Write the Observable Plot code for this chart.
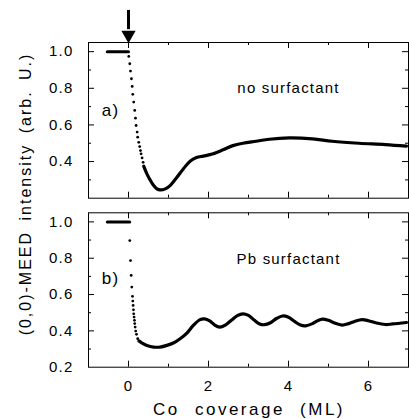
<!DOCTYPE html>
<html><head><meta charset="utf-8">
<script src="https://cdn.jsdelivr.net/npm/d3@7"></script>
<script src="https://cdn.jsdelivr.net/npm/@observablehq/plot@0.6"></script>
<style>
body{margin:0;background:#fff}
#wrap{position:relative;width:409px;height:419px;font-family:"Liberation Sans",Arial,sans-serif;color:#000}
#wrap svg{position:absolute;left:0}
#ylab{position:absolute;left:26px;top:194px;transform:translate(-50%,-50%) rotate(-90deg);white-space:nowrap;font-size:16px;line-height:16px;letter-spacing:2px;word-spacing:4px}
#xlab{position:absolute;left:249px;top:400.6px;transform:translateX(-50%);white-space:nowrap;font-size:17px;line-height:17px;letter-spacing:2.5px;word-spacing:8px}
</style></head><body><div id="wrap"><div id="ylab">(0,0)-MEED intensity (arb. U.)</div><div id="xlab"></div></div>
<script>
// ---- data ----
const xDomain = [-1, 7];
const yDomain = [0.2, 1.05];
const xTickLabels = [0, 2, 4, 6];
const xMinorTicks = [1, 3, 5];
const yTickLabelsTop = [0.4, 0.6, 0.8, 1.0];
const yTickLabelsBottom = [0.2, 0.4, 0.6, 0.8, 1.0];
const yMajorTicks = [0.4, 0.6, 0.8, 1.0];
const yMinorTicks = [0.3, 0.5, 0.7, 0.9];

const topFlatX = [-0.53, 0];
const topFlatY = [1.0, 1.0];
const topDropX = [0.007,0.032,0.05,0.074,0.092,0.107,0.13,0.156,0.174,0.19,0.216,0.23,0.256,0.28,0.3,0.315,0.34,0.365];
const topDropY = [0.974,0.934,0.894,0.852,0.81,0.767,0.725,0.679,0.637,0.597,0.561,0.533,0.505,0.482,0.46,0.442,0.42,0.396];
const topCurveX = [0.38,0.46,0.55,0.63,0.71,0.79,0.92,1.04,1.21,1.37,1.54,1.70,1.87,2.03,2.12,2.36,2.61,2.86,3.19,3.52,4.02,4.6,5.09,5.76,6.42,6.95];
const topCurveY = [0.375,0.333,0.296,0.269,0.251,0.245,0.251,0.269,0.314,0.36,0.402,0.422,0.43,0.438,0.443,0.464,0.487,0.5,0.511,0.522,0.529,0.524,0.511,0.5,0.493,0.484];

const botFlatX = [-0.53, 0.03];
const botFlatY = [1.0, 1.0];
const botDropX = [0.032,0.05,0.067,0.082,0.1,0.107,0.116,0.124,0.13,0.14,0.149,0.156,0.166,0.18,0.2,0.23];
const botDropY = [0.897,0.787,0.705,0.641,0.59,0.564,0.54,0.516,0.494,0.476,0.458,0.44,0.421,0.399,0.381,0.357];
const botCurveX = [0.26,0.34,0.46,0.63,0.79,0.96,1.12,1.29,1.46,1.62,1.79,1.9,2.03,2.15,2.28,2.42,2.58,2.72,2.86,3.0,3.15,3.28,3.4,3.55,3.7,3.85,4.0,4.15,4.3,4.43,4.6,4.72,4.85,5.0,5.15,5.34,5.5,5.65,5.84,6.0,6.2,6.42,6.6,6.95];
const botCurveY = [0.345,0.333,0.32,0.311,0.311,0.32,0.333,0.357,0.388,0.43,0.462,0.466,0.455,0.433,0.421,0.432,0.46,0.484,0.494,0.485,0.458,0.438,0.434,0.445,0.468,0.482,0.475,0.452,0.432,0.428,0.44,0.455,0.465,0.458,0.443,0.432,0.44,0.452,0.462,0.456,0.443,0.435,0.438,0.446];

const arrowX = [0];
const arrowTop = 1.225, arrowNeck = 1.12, arrowHead = 1.0915;

const panelLabels = ["a)", "b)"];
const panelLabelX = -0.45;
const panelLabelY = [0.68, 0.69];
const notes = ["no surfactant", "Pb surfactant"];
const noteX = 4.0;
const noteY = [0.80, 0.795];
const xLabel = "Co coverage (ML)";

// ---- helpers ----
const W = 409, ML = 88, MR = 1;
const FW = W - ML - MR;
const zip = (xs, ys) => xs.map((x, i) => ({x, y: ys[i]}));

function frameTicks(fh) {
  return [
    Plot.frame({stroke: "black", strokeWidth: 1}),
    Plot.tickY(yMajorTicks, {y: d => d, insetRight: FW - 6, strokeWidth: 1}),
    Plot.tickY(yMinorTicks, {y: d => d, insetRight: FW - 3, strokeWidth: 1}),
    Plot.tickY(yMajorTicks, {y: d => d, insetLeft: FW - 6, strokeWidth: 1}),
    Plot.tickY(yMinorTicks, {y: d => d, insetLeft: FW - 3, strokeWidth: 1}),
    Plot.tickX(xTickLabels, {x: d => d, insetBottom: fh - 6, strokeWidth: 1}),
    Plot.tickX(xMinorTicks, {x: d => d, insetBottom: fh - 3, strokeWidth: 1}),
    Plot.tickX(xTickLabels, {x: d => d, insetTop: fh - 6, strokeWidth: 1}),
    Plot.tickX(xMinorTicks, {x: d => d, insetTop: fh - 3, strokeWidth: 1})
  ];
}

function dataMarks(flatX, flatY, dropX, dropY, curveX, curveY) {
  return [
    Plot.line(zip(flatX, flatY), {x: "x", y: "y", stroke: "black", strokeWidth: 3}),
    Plot.dot(zip(dropX, dropY), {x: "x", y: "y", r: 1.4, fill: "black"}),
    Plot.line(zip(curveX, curveY), {x: "x", y: "y", stroke: "black", strokeWidth: 3.2, curve: "catmull-rom"})
  ];
}

const style = {fontFamily: '"Liberation Sans", Arial, sans-serif', fontSize: "15px", letterSpacing: "1.2px", background: "transparent", overflow: "visible", color: "black"};

// ---- top panel ----
const topH = 200, topMT = 42, topMB = 2.3;
const topPlot = Plot.plot({
  width: W, height: topH, marginLeft: ML, marginRight: MR, marginTop: topMT, marginBottom: topMB,
  style,
  x: {domain: xDomain, axis: null},
  y: {domain: yDomain},
  marks: [
    ...frameTicks(topH - topMT - topMB),
    Plot.axisY(yTickLabelsTop, {tickSize: 0, tickPadding: 15, tickFormat: d3.format(".1f"), label: null}),
    ...dataMarks(topFlatX, topFlatY, topDropX, topDropY, topCurveX, topCurveY),
    Plot.ruleX(arrowX, {x: d => d, y1: arrowTop, y2: arrowNeck, strokeWidth: 3, stroke: "black"}),
    Plot.dot(arrowX, {x: d => d, y: arrowHead, symbol: "triangle", rotate: 180, r: 5.3, fill: "black", stroke: "none"}),
    Plot.text([panelLabels[0]], {x: panelLabelX, y: panelLabelY[0], fontSize: 17, textAnchor: "middle"}),
    Plot.text([notes[0]], {x: noteX, y: noteY[0], fontSize: 15, textAnchor: "middle"})
  ]
});
topPlot.style.top = "0px";

// ---- bottom panel ----
const botH = 219, botMT = 12.3, botMB = 52.3;
const botPlot = Plot.plot({
  width: W, height: botH, marginLeft: ML, marginRight: MR, marginTop: botMT, marginBottom: botMB,
  style,
  x: {domain: xDomain},
  y: {domain: yDomain},
  marks: [
    ...frameTicks(botH - botMT - botMB),
    Plot.axisY(yTickLabelsBottom, {tickSize: 0, tickPadding: 15, tickFormat: d3.format(".1f"), label: null}),
    Plot.axisX(xTickLabels, {tickSize: 0, tickPadding: 13, label: null}),
    ...dataMarks(botFlatX, botFlatY, botDropX, botDropY, botCurveX, botCurveY),
    Plot.text([panelLabels[1]], {x: panelLabelX, y: panelLabelY[1], fontSize: 17, textAnchor: "middle"}),
    Plot.text([notes[1]], {x: noteX, y: noteY[1], fontSize: 15, textAnchor: "middle"})
  ]
});
botPlot.style.top = "200px";

const wrap = document.getElementById("wrap");
wrap.appendChild(topPlot);
wrap.appendChild(botPlot);
document.getElementById("xlab").textContent = xLabel;
</script></body></html>
